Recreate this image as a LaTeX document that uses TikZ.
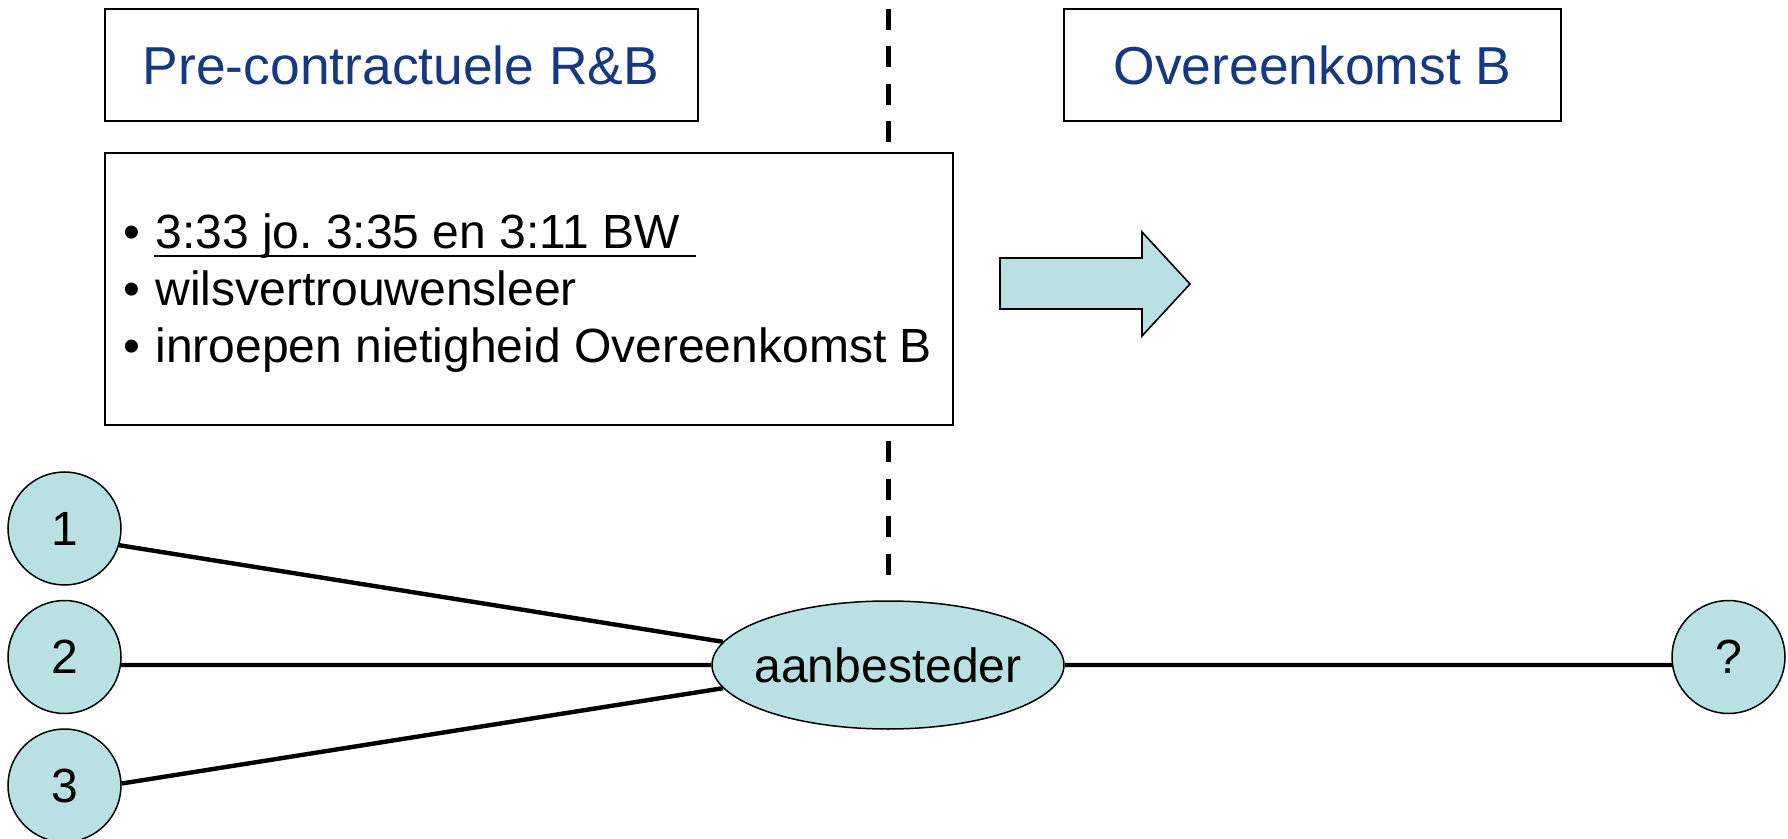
\documentclass[tikz,border=0pt]{standalone}
\usepackage{fontspec}
\setmainfont{Liberation Sans}
\usetikzlibrary{calc,shapes.geometric}
\definecolor{ttlblue}{RGB}{22,56,128}
\definecolor{lblue}{RGB}{185,224,227}
\frenchspacing
\begin{document}
\begin{tikzpicture}[x=0.5pt,y=-0.5pt,
  hdr/.style={draw=black,line width=1pt,fill=white,minimum height=56pt,inner sep=0pt,
    text=ttlblue,font=\fontsize{26.7}{30}\selectfont},
  contentbox/.style={draw=black,line width=1pt,fill=white,inner sep=0pt},
  btxt/.style={anchor=base west,inner sep=0pt,font=\fontsize{24}{28.5}\selectfont},
  party/.style={circle,draw=black,line width=0.75pt,fill=lblue,minimum size=56.5pt,inner sep=0pt,
    font=\fontsize{24}{28.5}\selectfont},
  hub/.style={ellipse,draw=black,line width=0.75pt,fill=lblue,minimum width=176pt,minimum height=64pt,
    inner sep=0pt,font=\fontsize{24}{28.5}\selectfont},
  link/.style={draw=black,line width=2.2pt},
  divider/.style={draw=black,line width=2.5pt,dash pattern=on 10.5pt off 8.25pt}]
\useasboundingbox (0,0) rectangle (1788,839);
% divider
\coordinate (d1) at (888.6,9);
\coordinate (d2) at (888.6,143);
\coordinate (d3) at (888.6,441);
\coordinate (d4) at (888.6,575);
\draw[divider] (d1) -- (d2);
\draw[divider] (d3) -- (d4);
% headers
\node[hdr,minimum width=296.5pt] (h1) at (401,65) {Pre-contractuele R\&B};
\node[hdr,minimum width=248.5pt] (h2) at (1312.5,65) {Overeenkomst B};
% content box
\node[contentbox,minimum width=424.25pt,minimum height=136pt] (cb) at (528.75,289) {};
\node[btxt] (p1) at (122.6,249) {•};
\node[btxt] (p2) at (122.6,306) {•};
\node[btxt] (p3) at (122.6,363) {•};
\node[btxt] (l1) at (155,249) {3:33 jo. 3:35 en 3:11 BW};
\node[btxt] (l2) at (155,306) {wilsvertrouwensleer};
\node[btxt] (l3) at (155,363) {inroepen nietigheid Overeenkomst B};
\draw[black,line width=1.3pt] ($(l1.base west)+(-1,7)$) -- ($(l1.base east)+(15,7)$);
% arrow
\draw[black,line width=0.8pt,fill=lblue,line join=miter]
  (1000,258) -- (1142,258) -- (1142,232) -- (1190,284) -- (1142,336) -- (1142,309) -- (1000,309) -- cycle;
% graph
\node[party] (c1) at (64.5,528.5) {1};
\node[party] (c2) at (64.5,657) {2};
\node[party] (c3) at (64.5,785.5) {3};
\node[hub] (ab) at (888,665) {\makebox[0pt]{aanbesteder}};
\node[party] (q) at (1728.5,657) {?};
\draw[link] (c1.-17) -- (ab.172);
\draw[link] (c2.-8) -- (ab.180);
\draw[link] (c3.2) -- (ab.188);
\draw[link] (ab.0) -- (q.188);
\end{tikzpicture}
\end{document}
